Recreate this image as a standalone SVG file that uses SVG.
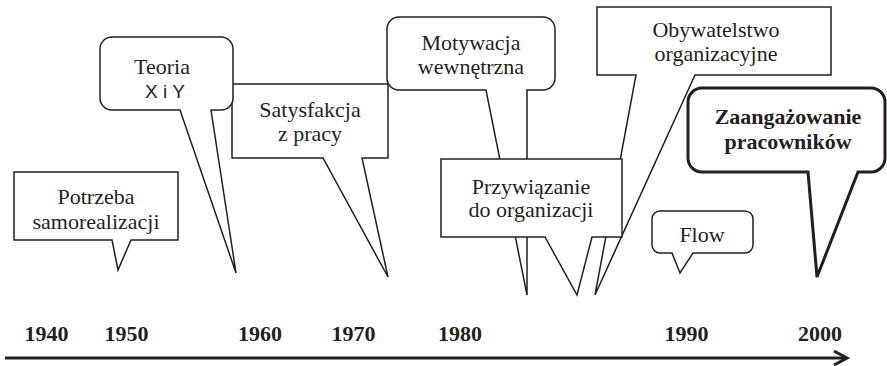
<svg xmlns="http://www.w3.org/2000/svg" width="887" height="366" viewBox="0 0 887 366">
  <style>
    .callout { fill: #ffffff; stroke: #231f20; stroke-width: 1.5; stroke-linejoin: miter; }
    .callout.key { stroke-width: 3; }
    .label { font-family: "Liberation Serif", "Times New Roman", serif; font-size: 22px; fill: #231f20; text-anchor: middle; }
    .label.bold { font-weight: bold; }
    .sans { font-family: "Liberation Sans", Arial, sans-serif; font-size: 19px; fill: #231f20; text-anchor: middle; }
    .year { font-family: "Liberation Serif", "Times New Roman", serif; font-size: 22px; font-weight: bold; fill: #231f20; text-anchor: middle; }
    .axis { fill: none; stroke: #231f20; stroke-width: 3; }
  </style>

  <rect width="887" height="366" fill="#ffffff"/>

  <!-- timeline axis -->
  <g id="connectors">
    <line class="axis" x1="5" y1="358" x2="846" y2="358"/>
    <polyline class="axis" points="834,351 847,358 834,365"/>
  </g>

  <g id="years">
    <text class="year" x="46.5" y="341">1940</text>
    <text class="year" x="126.5" y="341">1950</text>
    <text class="year" x="260" y="341">1960</text>
    <text class="year" x="353.5" y="341">1970</text>
    <text class="year" x="460" y="341">1980</text>
    <text class="year" x="686.5" y="341">1990</text>
    <text class="year" x="820" y="341">2000</text>
  </g>

  <g id="potrzeba">
    <path class="callout" d="M14,172 H178 V240 H131 L118,270 L112,240 H14 Z"/>
    <text class="label" x="96" y="204">Potrzeba</text>
    <text class="label" x="96" y="229">samorealizacji</text>
  </g>

  <g id="satysfakcja">
    <path class="callout" d="M232,84 H388 V158 H362 L388,277 L323,158 H232 Z"/>
    <text class="label" x="310" y="117">Satysfakcja</text>
    <text class="label" x="310" y="141">z pracy</text>
  </g>

  <g id="teoria">
    <path class="callout" d="M112,37 H221 A12,12 0 0 1 233,49 V98 A12,12 0 0 1 221,110 H211 L236,273 L180,110 H112 A12,12 0 0 1 100,98 V49 A12,12 0 0 1 112,37 Z"/>
    <text class="label" x="162" y="74">Teoria</text>
    <text class="sans" x="165" y="98">X i Y</text>
  </g>

  <g id="motywacja">
    <path class="callout" d="M399,17 H543 A12,12 0 0 1 555,29 V78 A12,12 0 0 1 543,90 H527 L527,295 L486,90 H399 A12,12 0 0 1 387,78 V29 A12,12 0 0 1 399,17 Z"/>
    <text class="label" x="471" y="50">Motywacja</text>
    <text class="label" x="471" y="74">wewnętrzna</text>
  </g>

  <g id="obywatelstwo">
    <path class="callout" d="M597,7 H831 V75 H695 L595,295 L636,75 H597 Z"/>
    <text class="label" x="716" y="37">Obywatelstwo</text>
    <text class="label" x="716" y="61">organizacyjne</text>
  </g>

  <g id="przywiazanie">
    <path class="callout" d="M441,159 H622 V237 H592 L577,295 L545,237 H441 Z"/>
    <text class="label" x="531" y="194">Przywiązanie</text>
    <text class="label" x="531" y="217">do organizacji</text>
  </g>

  <g id="flow">
    <path class="callout" d="M660,211 H745 A8,8 0 0 1 753,219 V245 A8,8 0 0 1 745,253 H693 L680,273 L672,253 H660 A8,8 0 0 1 652,245 V219 A8,8 0 0 1 660,211 Z"/>
    <text class="label" x="702" y="242">Flow</text>
  </g>

  <g id="zaangazowanie">
    <path class="callout key" d="M702,88 H871 A14,14 0 0 1 885,102 V158 A14,14 0 0 1 871,172 H858 L817,277 L808,172 H702 A14,14 0 0 1 688,158 V102 A14,14 0 0 1 702,88 Z"/>
    <text class="label bold" x="788" y="124">Zaangażowanie</text>
    <text class="label bold" x="788" y="149">pracowników</text>
  </g>
</svg>
